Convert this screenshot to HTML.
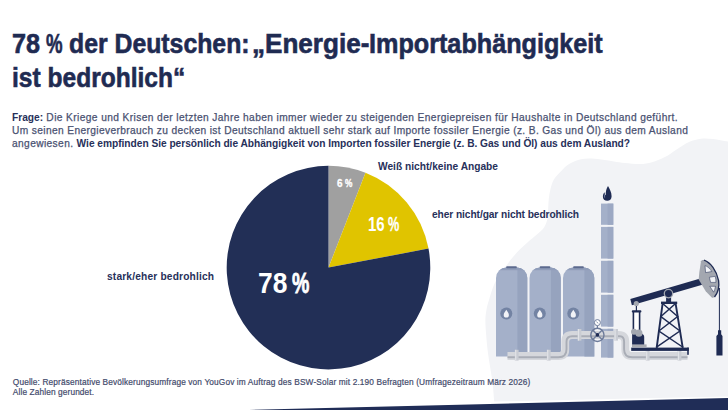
<!DOCTYPE html>
<html><head><meta charset="utf-8">
<style>
html,body{margin:0;padding:0;}
body{width:728px;height:410px;overflow:hidden;background:#fff;position:relative;font-family:"Liberation Sans",sans-serif;}
svg.bg{position:absolute;left:0;top:0;}
.t{position:absolute;white-space:nowrap;transform-origin:0 0;}
.title{font-weight:bold;font-size:27.6px;line-height:32px;color:#1f2b52;-webkit-text-stroke:0.6px #1f2b52;}
.q{font-size:10.2px;line-height:13px;color:#4a5272;letter-spacing:0.38px;-webkit-text-stroke:0.25px #4a5272;}
.q b{color:#27305a;letter-spacing:0;-webkit-text-stroke:0;}
.lab{font-weight:bold;font-size:10.2px;line-height:12px;color:#27305a;}
.pct{font-weight:bold;color:#fff;}
.foot{font-size:8.3px;line-height:10px;color:#434b6c;letter-spacing:0.12px;-webkit-text-stroke:0.2px #434b6c;}
</style></head>
<body>
<svg class="bg" width="728" height="410" viewBox="0 0 728 410">
  <path d="M728,141.5 C723.5,140.8 717.5,139.5 713,139 C708.5,138.5 705.0,138.2 701,138.7 C697.0,139.2 693.1,140.2 689,142 C684.9,143.8 680.7,146.8 676.6,149.4 C672.5,152.0 668.5,155.2 664.4,157.3 C660.3,159.4 656.1,161.1 652,162.2 C647.9,163.3 644.5,163.9 640,164 C635.5,164.1 629.3,163.4 625,163 C620.7,162.6 617.7,161.9 614,161.4 C610.3,160.9 606.7,160.3 603,159.8 C599.3,159.3 595.7,158.6 592,158.5 C588.3,158.4 584.7,158.3 581,159.2 C577.3,160.0 573.0,161.9 570,163.6 C567.0,165.3 565.4,166.9 562.7,169.5 C560.0,172.1 556.0,176.1 554,179.3 C552.0,182.6 551.4,185.8 550.5,189 C549.6,192.2 549.2,195.6 548.8,198.8 C548.4,202.0 548.4,204.8 548.2,208 C548.0,211.2 548.3,214.8 547.6,218 C546.9,221.2 546.0,224.5 544.2,227.3 C542.4,230.1 539.6,232.2 536.9,234.6 C534.2,237.0 530.8,239.6 528,242 C525.2,244.4 522.4,246.9 520,249.3 C517.6,251.7 515.5,254.2 513.4,256.6 C511.3,259.1 509.8,261.1 507.6,264 C505.4,266.9 502.4,270.3 500,274 C497.6,277.7 495.3,281.7 493.5,286 C491.7,290.3 490.1,296.3 489,300 C487.9,303.7 487.4,304.8 486.8,308 C486.2,311.2 485.5,315.0 485.4,319.3 C485.3,323.6 485.7,328.9 486.1,334 C486.5,339.1 486.9,344.1 487.6,350 C488.3,355.9 489.6,363.6 490.5,369.3 C491.4,375.0 492.1,378.6 492.7,384 C493.3,389.4 493.9,398.2 494.2,401.5 L728,396.5 Z" fill="#f2f3f6"/>
  <path d="M249,410 L728,397.9 L728,410 Z" fill="#202d57"/>
  <g>
    <path d="M328.5,267.6 L328.5,165.8 A101.8,101.8 0 0 1 365.5,172.8 Z" fill="#a0a0a0"/>
    <path d="M328.5,267.6 L365.5,172.8 A101.8,101.8 0 0 1 428.5,248.6 Z" fill="#e0c400"/>
    <path d="M328.5,267.6 L428.5,248.6 A101.8,101.8 0 1 1 328.5,165.8 Z" fill="#222f56"/>
  </g>
<clipPath id="tc0"><path d="M496.0,356.6 V278.0 A10.5,10.5 0 0 1 506.5,267.5 H516.8 A10.5,10.5 0 0 1 527.3,278.0 V356.6 Z"/></clipPath>
<path d="M496.0,356.6 V278.0 A10.5,10.5 0 0 1 506.5,267.5 H516.8 A10.5,10.5 0 0 1 527.3,278.0 V356.6 Z" fill="#a4b0c9"/>
<rect x="517.4" y="260" width="12" height="100" fill="#96a3be" clip-path="url(#tc0)"/>
<rect x="495.0" y="267" width="33.3" height="3.2" fill="#8f9cb9" clip-path="url(#tc0)"/>
<rect x="506.2" y="266.2" width="10.6" height="2" rx="0.8" fill="#5c6a8e"/>
<circle cx="506.3" cy="313.6" r="6" fill="#7383a3"/>
<path d="M506.3,309.8 C507.2,311.4 508.9,313.0 508.9,315.0 A2.6,2.6 0 0 1 503.7,315.0 C503.7,313.0 505.4,311.4 506.3,309.8 Z" fill="#f2f3f7"/>
<clipPath id="tc1"><path d="M529.5,356.6 V278.0 A10.5,10.5 0 0 1 540.0,267.5 H550.3 A10.5,10.5 0 0 1 560.8,278.0 V356.6 Z"/></clipPath>
<path d="M529.5,356.6 V278.0 A10.5,10.5 0 0 1 540.0,267.5 H550.3 A10.5,10.5 0 0 1 560.8,278.0 V356.6 Z" fill="#a4b0c9"/>
<rect x="550.9" y="260" width="12" height="100" fill="#96a3be" clip-path="url(#tc1)"/>
<rect x="528.5" y="267" width="33.3" height="3.2" fill="#8f9cb9" clip-path="url(#tc1)"/>
<rect x="539.7" y="266.2" width="10.6" height="2" rx="0.8" fill="#5c6a8e"/>
<circle cx="539.8" cy="313.6" r="6" fill="#7383a3"/>
<path d="M539.8,309.8 C540.7,311.4 542.4,313.0 542.4,315.0 A2.6,2.6 0 0 1 537.2,315.0 C537.2,313.0 538.9,311.4 539.8,309.8 Z" fill="#f2f3f7"/>
<clipPath id="tc2"><path d="M563.0,356.6 V278.0 A10.5,10.5 0 0 1 573.5,267.5 H583.8 A10.5,10.5 0 0 1 594.3,278.0 V356.6 Z"/></clipPath>
<path d="M563.0,356.6 V278.0 A10.5,10.5 0 0 1 573.5,267.5 H583.8 A10.5,10.5 0 0 1 594.3,278.0 V356.6 Z" fill="#a4b0c9"/>
<rect x="584.4" y="260" width="12" height="100" fill="#96a3be" clip-path="url(#tc2)"/>
<rect x="562.0" y="267" width="33.3" height="3.2" fill="#8f9cb9" clip-path="url(#tc2)"/>
<rect x="573.2" y="266.2" width="10.6" height="2" rx="0.8" fill="#5c6a8e"/>
<circle cx="573.3" cy="313.6" r="6" fill="#7383a3"/>
<path d="M573.3,309.8 C574.2,311.4 575.9,313.0 575.9,315.0 A2.6,2.6 0 0 1 570.7,315.0 C570.7,313.0 572.4,311.4 573.3,309.8 Z" fill="#f2f3f7"/>
<rect x="601" y="203.6" width="12.3" height="21.2" fill="#a4b0c9"/>
<rect x="607.6" y="203.6" width="5.7" height="21.2" fill="#9ca8c3"/>
<rect x="601" y="226.9" width="12.3" height="31.7" fill="#a4b0c9"/>
<rect x="607.6" y="226.9" width="5.7" height="31.7" fill="#9ca8c3"/>
<rect x="601" y="260.8" width="12.3" height="31.8" fill="#a4b0c9"/>
<rect x="607.6" y="260.8" width="5.7" height="31.8" fill="#9ca8c3"/>
<rect x="601" y="294.8" width="12.3" height="31.8" fill="#a4b0c9"/>
<rect x="607.6" y="294.8" width="5.7" height="31.8" fill="#9ca8c3"/>
<rect x="601" y="328.8" width="12.3" height="28.8" fill="#a4b0c9"/>
<rect x="607.6" y="328.8" width="5.7" height="28.8" fill="#9ca8c3"/>
<path d="M608,186 C609.6,189 611.6,192.2 611.6,196.2 C611.6,199.2 609.7,200.8 607.2,200.8 C604.7,200.8 602.9,199.2 602.9,196.8 C602.9,195 603.4,193.4 604.5,192.2 C604.7,193.8 605.1,194.8 605.8,195.3 C605.5,191.8 606.4,188.6 608,186 Z" fill="#1f2b53"/>
<path d="M604.4,193.8 C603.9,195.6 604.1,197.4 605.1,198.2 C605.1,196.6 605.2,195.2 604.4,193.8 Z" fill="#7f8cad"/>
<path d="M507.5,356 H558.5 Q565.3,356 565.3,349.2 V341.8 Q565.3,335 572.1,335 H618.5 Q625.3,335 625.3,341.8 V349.2 Q625.3,356 632.1,356 H687.5" fill="none" stroke="#d5d7dc" stroke-width="7.8" stroke-linejoin="round"/>
<path d="M507.5,357.2 H558.5 Q566.5,357.2 566.5,349.2 V341.8 Q566.5,336.3 572.1,336.3 H620" fill="none" stroke="#a9adb6" stroke-width="1.9"/>
<path d="M620,336.3 Q624.1,336.5 624.1,341.8 V349.2 Q624.1,357.2 632.1,357.2 H687.5" fill="none" stroke="#a9adb6" stroke-width="1.9"/>
<rect x="514.8" y="349.8" width="3.8" height="10.8" fill="#c9ccd3"/>
<rect x="515.0999999999999" y="349.8" width="1.2" height="10.8" fill="#e1e3e7"/>
<rect x="546.8" y="349.8" width="3.8" height="10.8" fill="#c9ccd3"/>
<rect x="547.0999999999999" y="349.8" width="1.2" height="10.8" fill="#e1e3e7"/>
<rect x="577.6" y="329" width="3.8" height="11.6" fill="#c9ccd3"/>
<rect x="577.9" y="329" width="1.2" height="11.6" fill="#e1e3e7"/>
<rect x="614.2" y="329" width="3.8" height="11.6" fill="#c9ccd3"/>
<rect x="614.5" y="329" width="1.2" height="11.6" fill="#e1e3e7"/>
<rect x="645.8" y="349.6" width="3.8" height="11.0" fill="#c9ccd3"/>
<rect x="646.0999999999999" y="349.6" width="1.2" height="11.0" fill="#e1e3e7"/>
<rect x="677.6" y="349.6" width="3.8" height="11.0" fill="#c9ccd3"/>
<rect x="677.9" y="349.6" width="1.2" height="11.0" fill="#e1e3e7"/>
<line x1="597.4" y1="325.8" x2="597.4" y2="328" stroke="#6d7b9a" stroke-width="1.2"/>
<circle cx="597.4" cy="322.6" r="3" fill="#fff" stroke="#6d7b9a" stroke-width="1"/>
<path d="M596.6,321.6 L598,323.4" stroke="#6d7b9a" stroke-width="0.8"/>
<circle cx="597.4" cy="334.9" r="6.6" fill="none" stroke="#6d7b9a" stroke-width="1.4"/>
<path d="M592.8,330.3 L602,339.5 M602,330.3 L592.8,339.5" stroke="#6d7b9a" stroke-width="1.3"/>
<circle cx="597.4" cy="334.9" r="1.8" fill="#1f2b53"/>
<rect x="631.2" y="347.6" width="57.6" height="3.3" fill="#1f2b53"/>
<rect x="687.2" y="347.6" width="1.6" height="7.2" fill="#1f2b53"/>
<rect x="632" y="344.4" width="14.6" height="2.8" fill="#a8aab0"/>
<path d="M632.1,344.5 V333.4 H641 Q644.2,334 644.2,337 V344.5 Z" fill="#1f2b53"/>
<rect x="633.2" y="311" width="6.8" height="21" fill="#fff"/>
<rect x="632.6" y="311" width="1.6" height="21.5" fill="#1f2b53"/>
<rect x="638.8" y="311" width="1.6" height="21.5" fill="#1f2b53"/>
<rect x="631.8" y="310.2" width="9.6" height="2.2" rx="1" fill="#1f2b53"/>
<rect x="635.8" y="305" width="1.2" height="6" fill="#1f2b53"/>
<circle cx="634" cy="331.8" r="3" fill="#a3a7b0"/>
<circle cx="638.9" cy="333.2" r="3.6" fill="#a3a7b0"/>
<g stroke="#1f2b53" stroke-width="1.9" fill="none" stroke-linecap="square">
<path d="M662.6,303.5 L656.8,347 M675.6,303.5 L682.6,347"/>
<path d="M662.6,303.5 L677.7,316.5 M675.6,303.5 L660.9,316.5 M660.9,316.5 L680.0,331 M677.7,316.5 L658.9,331 M658.9,331 L682.6,347 M680.0,331 L656.8,347 " stroke-width="1.5"/>
</g>
<rect x="661" y="301.6" width="16.2" height="2.4" fill="#1f2b53"/>
<rect x="666.1" y="297.5" width="5" height="4.5" fill="#1f2b53"/>
<path d="M630.3,299.1 L702,278 L704,284.2 L631.9,305.3 Z" fill="#1f2b53"/>
<circle cx="668.5" cy="293.6" r="4.2" fill="#1f2b53" stroke="#a3a7b0" stroke-width="1.3"/>
<circle cx="636.3" cy="303.5" r="2.6" fill="#a3a7b0"/>
<path d="M704,260.1 C710.5,262.5 716.5,270 718.6,280.6 C719.4,286 718,292.5 714.5,297 C713.5,298 712.3,298 711.5,297.2 L705.7,291.2 L698.7,279.4 L699.3,272.4 L701,261.3 C701.5,260.3 702.8,259.8 704,260.1 Z" fill="#a3a7b0"/>
<path d="M704,260.1 C710.5,262.5 716.5,270 718.6,280.6 C719.4,286 718,292.5 714.5,297" fill="none" stroke="#1f2b53" stroke-width="1.3"/>
<path d="M705,265.6 L705.6,272.6 L711.8,271.5 C710,268.6 707.6,266.4 705,265.6 Z" fill="#f2f3f6" stroke="#1f2b53" stroke-width="0.5"/>
<path d="M709.4,277.3 L715.2,276.3 C715.8,278.3 716,280.3 715.9,282.4 L710.6,282.4 Z" fill="#f2f3f6" stroke="#1f2b53" stroke-width="0.5"/>
<path d="M709.8,286.3 L715.5,286.3 C715.1,288.6 714.5,290.5 713.6,292.2 Z" fill="#f2f3f6" stroke="#1f2b53" stroke-width="0.5"/>
<line x1="719.4" y1="288" x2="719.4" y2="331" stroke="#1f2b53" stroke-width="1"/>
<path d="M718,330.2 H721.2 V334.2 L722.5,336 V355.6 H716.4 V336 L718,334.2 Z" fill="#1f2b53"/>
</svg>

<div class="t title" style="left:12.1px;top:27.5px;transform:scaleX(0.914)">78</div>
<div class="t title" style="left:46.3px;top:27.5px;transform:scaleX(0.674)">%</div>
<div class="t title" style="left:68.6px;top:27.5px;transform:scaleX(0.899)">der Deutschen:</div>
<div class="t title" style="left:251.7px;top:27.5px;transform:scaleX(0.945)">„Energie-</div>
<div class="t title" style="left:369.3px;top:27.5px;transform:scaleX(0.913)">Importabhängigkeit</div>
<div class="t title" style="left:11.7px;top:62px;transform:scaleX(0.89)">ist bedrohlich“</div>

<div class="t q" style="left:12px;top:111px;letter-spacing:0.40px"><b>Frage:</b> Die Kriege und Krisen der letzten Jahre haben immer wieder zu steigenden Energiepreisen für Haushalte in Deutschland geführt.</div>
<div class="t q" style="left:12px;top:124.2px;letter-spacing:0.37px">Um seinen Energieverbrauch zu decken ist Deutschland aktuell sehr stark auf Importe fossiler Energie (z. B. Gas und Öl) aus dem Ausland</div>
<div class="t q" style="left:12px;top:137.4px;">angewiesen. <b style="letter-spacing:-0.03px">Wie empfinden Sie persönlich die Abhängigkeit von Importen fossiler Energie (z. B. Gas und Öl) aus dem Ausland?</b></div>

<div class="t lab" style="left:378px;top:161px;">Weiß nicht/keine Angabe</div>
<div class="t lab" style="left:432px;top:209px;letter-spacing:-0.08px">eher nicht/gar nicht bedrohlich</div>
<div class="t lab" style="left:107px;top:271px;letter-spacing:0.17px">stark/eher bedrohlich</div>

<div class="t pct" style="left:257.5px;top:266px;font-size:30px;transform:scaleX(0.88)">78</div>
<div class="t pct" style="left:292px;top:266px;font-size:30px;transform:scaleX(0.65);-webkit-text-stroke:0.8px #fff">%</div>
<div class="t pct" style="left:368.3px;top:213px;font-size:19.5px;transform:scaleX(0.77)">16</div>
<div class="t pct" style="left:387.6px;top:213px;font-size:19.5px;transform:scaleX(0.65);-webkit-text-stroke:0.3px #fff">%</div>
<div class="t pct" style="left:337px;top:177px;font-size:11.5px;transform:scaleX(0.86);-webkit-text-stroke:0.3px #fff">6</div>
<div class="t pct" style="left:344.5px;top:177px;font-size:11.5px;transform:scaleX(0.72);-webkit-text-stroke:0.4px #fff">%</div>

<div class="t foot" style="left:12.8px;top:376.7px;letter-spacing:0.135px">Quelle: Repräsentative Bevölkerungsumfrage von YouGov im Auftrag des BSW-Solar mit 2.190 Befragten (Umfragezeitraum März 2026)</div>
<div class="t foot" style="left:12.8px;top:386.8px;">Alle Zahlen gerundet.</div>
</body></html>
